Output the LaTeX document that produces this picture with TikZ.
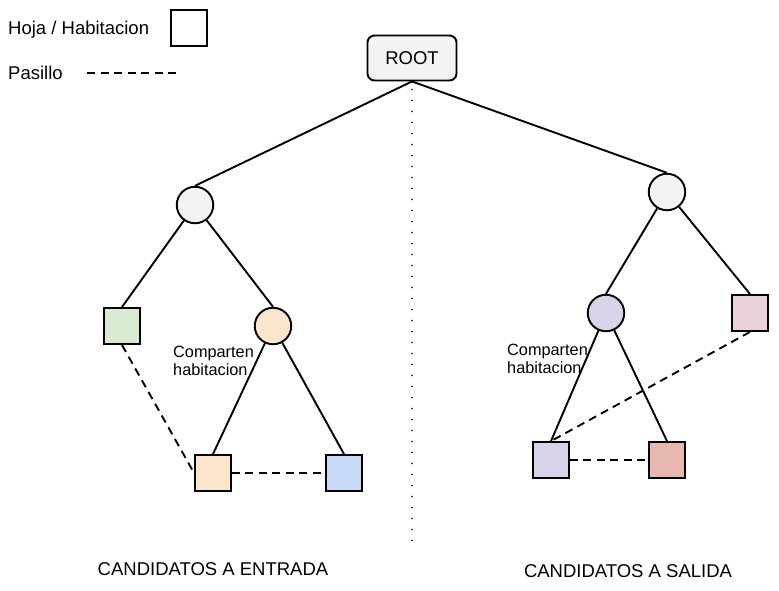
\documentclass[tikz,border=0pt]{standalone}
\usepackage{fontspec}
\setmainfont{Liberation Sans}
\definecolor{greyfill}{HTML}{F3F3F3}
\definecolor{greenfill}{HTML}{D9EAD3}
\definecolor{orangefill}{HTML}{FCE5CD}
\definecolor{bluefill}{HTML}{C9DAF8}
\definecolor{purplefill}{HTML}{D9D2E9}
\definecolor{pinkfill}{HTML}{EAD1DC}
\definecolor{salmonfill}{HTML}{E6B8AF}
\tikzset{
  leaf/.style={draw=black, line width=1.9pt, rectangle, minimum size=36pt, inner sep=0pt},
  circnode/.style={draw=black, line width=1.9pt, circle, minimum size=36.5pt, inner sep=0pt},
  rootbox/.style={draw=black, line width=1.9pt, rounded corners=7pt, fill=greyfill, minimum width=89pt, minimum height=45pt, inner sep=0pt, font=\fontsize{18.5}{20}\selectfont},
  edge/.style={line width=1.9pt},
  corridor/.style={line width=1.9pt, dash pattern=on 8pt off 5.5pt},
  divider/.style={line width=1.6pt, line cap=round, dash pattern=on 0pt off 11pt},
  legendtext/.style={anchor=west, inner sep=0pt, font=\fontsize{18.5}{20}\selectfont},
  smalltext/.style={anchor=north west, align=left, inner sep=0pt, font=\fontsize{16.3}{18}\selectfont},
  bigtext/.style={inner sep=0pt, font=\fontsize{18.5}{20}\selectfont}
}
\begin{document}
\begin{tikzpicture}[x=1pt, y=-1pt]
\useasboundingbox (0,0) rectangle (779,590);
% legend
\node[legendtext] (lhoja) at (8,30) {Hoja / Habitacion};
\node[leaf] (lsq) at (189,28) {};
\node[legendtext] (lpas) at (8,73) {Pasillo};
\coordinate (ld1) at (87,73);
\coordinate (ld2) at (178,73);
\draw[corridor] (ld1) -- (ld2);
% root
\node[rootbox] (root) at (412,58) {ROOT};
\coordinate (divend) at (412,548);
\draw[divider] ([yshift=-8pt]root.south) -- (divend);
% left tree
\node[circnode, fill=greyfill] (L) at (195,205) {};
\node[leaf, fill=greenfill] (G) at (122,326) {};
\node[circnode, fill=orangefill] (O) at (273,326) {};
\node[leaf, fill=orangefill] (OS) at (213,473) {};
\node[leaf, fill=bluefill] (B) at (344,473) {};
% right tree
\node[circnode, fill=greyfill] (R) at (667,192) {};
\node[circnode, fill=purplefill] (P) at (606,313) {};
\node[leaf, fill=pinkfill] (K) at (750,313) {};
\node[leaf, fill=purplefill] (PS) at (551,460) {};
\node[leaf, fill=salmonfill] (S) at (667,460) {};
% edges
\draw[edge] (root.south) -- (L.north);
\draw[edge] (root.south) -- (R.north);
\draw[edge] (L) -- (G.north);
\draw[edge] (L) -- (O.north);
\draw[edge] (O) -- (OS.north);
\draw[edge] (O) -- (B.north);
\draw[edge] (R) -- (P.north);
\draw[edge] (R) -- (K.north);
\draw[edge] (P) -- (PS.north);
\draw[edge] (P) -- (S.north);
% corridors
\draw[corridor] (G.south) -- (OS.west);
\draw[corridor] (OS.east) -- (B.west);
\draw[corridor] (K.south) -- (PS.north);
\draw[corridor] (PS.east) -- (S.west);
% labels
\node[smalltext] (c1) at (173,346) {Comparten\\habitacion};
\node[smalltext] (c2) at (507,344) {Comparten\\habitacion};
\node[bigtext] (tin) at (213,569) {CANDIDATOS A ENTRADA};
\node[bigtext] (tout) at (628,571) {CANDIDATOS A SALIDA};
\end{tikzpicture}
\end{document}
